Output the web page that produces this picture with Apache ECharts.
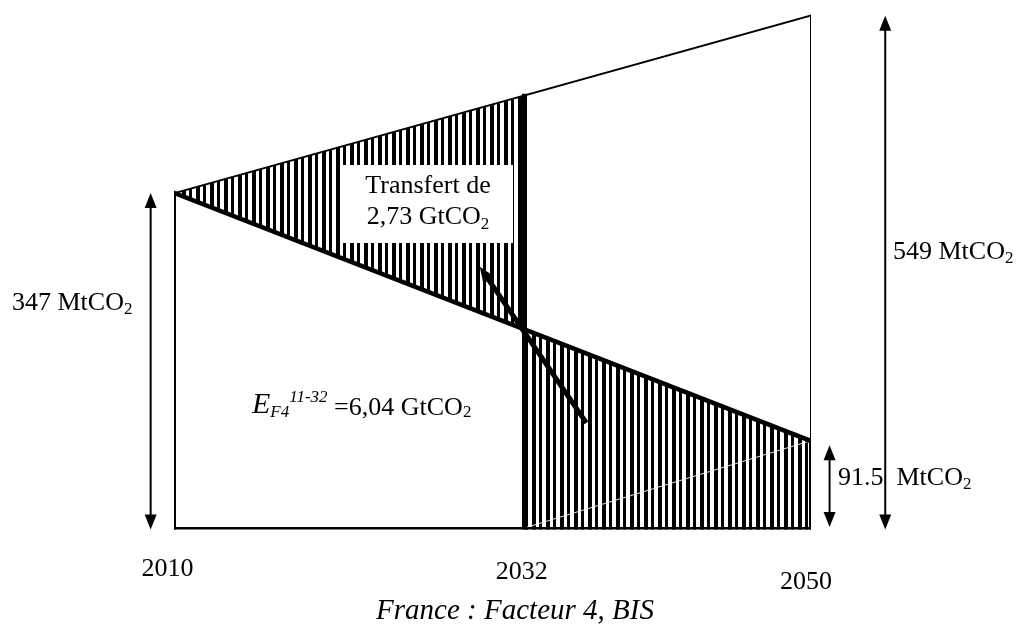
<!DOCTYPE html>
<html>
<head>
<meta charset="utf-8">
<script src="https://cdn.jsdelivr.net/npm/echarts@6/dist/echarts.min.js"></script>
<style>
  html, body { margin: 0; padding: 0; background: #fff; }
  #chart { width: 1028px; height: 628px; }
</style>
</head>
<body>
<div id="chart"></div>
<script>
// years on the baseline
const years = [2010, 2032, 2050]
const yearLabels = ['2010', '2032', '2050']
// MtCO2 (the sketch is not to scale)
const upperPath = [347, 447, 530]   // tendanciel
const lowerPath = [347, 206, 91.5]  // facteur 4
// transfer arrow, tail then head (year, MtCO2)
const transferArrow = [[2035.9, 110], [2029.2, 271]]

const serif = "'Liberation Serif', 'Times New Roman', serif"

// vertical hatching pattern
const hatchCanvas = document.createElement('canvas')
hatchCanvas.width = 14
hatchCanvas.height = 14
const hctx = hatchCanvas.getContext('2d')
hctx.fillStyle = '#fff'
hctx.fillRect(0, 0, 14, 14)
hctx.fillStyle = '#000'
hctx.fillRect(0, 0, 4, 14)
hctx.fillRect(7, 0, 3, 14)
const hatchFill = { image: hatchCanvas, repeat: 'repeat' }

const hatchShapes = [
  [[years[0], upperPath[0]], [years[1], upperPath[1]], [years[1], lowerPath[1]]],
  [[years[1], lowerPath[1]], [years[2], lowerPath[2]], [years[2], 0], [years[1], 0]]
]

const frame = [
  { coords: [[years[0], 0], [years[2], 0]], lineStyle: { width: 5 } },
  { coords: [[years[0], 0], [years[0], upperPath[0]]], lineStyle: { width: 2 } },
  { coords: [[years[1], 0], [years[1], upperPath[1]]], lineStyle: { width: 5 } },
  { coords: [[years[2], lowerPath[2]], [years[2], upperPath[2]]], lineStyle: { width: 2 } },
  { coords: [[years[2], 0], [years[2], lowerPath[2]]], lineStyle: { width: 4 } },
  { coords: [[years[0], upperPath[0]], [years[2], upperPath[2]]], lineStyle: { width: 2 } },
  { coords: [[years[0], lowerPath[0]], [years[2], lowerPath[2]]], lineStyle: { width: 4.5 } }
]

const arrows = [
  { from: [2008.5, 0], to: [2008.5, upperPath[0]], both: true, width: 2, head: [12, 15] },
  { from: [2054.7, 0], to: [2054.7, upperPath[2]], both: true, width: 2, head: [12, 15] },
  { from: [2051.2, 2.5], to: [2051.2, 87], both: true, width: 2, head: [12, 15] },
  { from: transferArrow[0], to: transferArrow[1], both: false, width: 5, head: [13, 16] }
]

function headPoints(tip, u, size) {
  const bx = tip[0] - u[0] * size[1]
  const by = tip[1] - u[1] * size[1]
  const nx = -u[1] * size[0] / 2
  const ny = u[0] * size[0] / 2
  return [tip, [bx + nx, by + ny], [bx - nx, by - ny]]
}

function renderArrow(params, api) {
  const a = arrows[params.dataIndex]
  const p0 = api.coord(a.from)
  const p1 = api.coord(a.to)
  const len = Math.hypot(p1[0] - p0[0], p1[1] - p0[1])
  const u = [(p1[0] - p0[0]) / len, (p1[1] - p0[1]) / len]
  const back = [-u[0], -u[1]]
  const s0 = a.both ? [p0[0] + u[0] * a.head[1] * 0.8, p0[1] + u[1] * a.head[1] * 0.8] : p0
  const s1 = [p1[0] - u[0] * a.head[1] * 0.8, p1[1] - u[1] * a.head[1] * 0.8]
  const children = [
    { type: 'line', shape: { x1: s0[0], y1: s0[1], x2: s1[0], y2: s1[1] }, style: { stroke: '#000', lineWidth: a.width } },
    { type: 'polygon', shape: { points: headPoints(p1, u, a.head) }, style: { fill: '#000' } }
  ]
  if (a.both) {
    children.push({ type: 'polygon', shape: { points: headPoints(p0, back, a.head) }, style: { fill: '#000' } })
  }
  return { type: 'group', children }
}

function subLabel(x, y, text) {
  return {
    type: 'text', z: 101, x, y,
    style: {
      text,
      align: 'left', verticalAlign: 'middle',
      rich: {
        a: { fontFamily: serif, fontSize: 26, lineHeight: 30, verticalAlign: 'middle', fill: '#000' },
        s: { fontFamily: serif, fontSize: 17, lineHeight: 18, verticalAlign: 'bottom', fill: '#000' }
      }
    }
  }
}

const chart = echarts.init(document.getElementById('chart'), null, { renderer: 'canvas' })

chart.setOption({
  backgroundColor: '#fff',
  animation: false,
  grid: { left: 174.5, right: 217.5, top: 6, bottom: 98.5 },
  xAxis: { type: 'value', min: 2010, max: 2050, show: false },
  yAxis: { type: 'value', min: 0, max: 540, show: false },
  series: [
    {
      type: 'custom',
      coordinateSystem: 'cartesian2d',
      z: 1,
      data: hatchShapes.map(s => s[0]),
      renderItem(params, api) {
        const pts = hatchShapes[params.dataIndex].map(p => api.coord(p))
        return { type: 'polygon', shape: { points: pts }, style: { fill: hatchFill, stroke: null } }
      }
    },
    {
      // thin white seam across the lower hatch, as in the scan
      type: 'lines',
      coordinateSystem: 'cartesian2d',
      z: 2,
      silent: true,
      lineStyle: { color: '#fff', width: 1, opacity: 0.9 },
      data: [{ coords: [[years[1], 1.5], [years[2], lowerPath[2]]] }]
    },
    {
      type: 'lines',
      coordinateSystem: 'cartesian2d',
      z: 3,
      silent: true,
      lineStyle: { color: '#000', opacity: 1, cap: 'square' },
      data: frame
    },
    {
      type: 'custom',
      coordinateSystem: 'cartesian2d',
      z: 4,
      data: arrows.map(a => a.to),
      renderItem: renderArrow
    },
    {
      type: 'scatter',
      symbolSize: 0,
      z: 5,
      silent: true,
      itemStyle: { opacity: 1, color: '#000' },
      label: {
        show: true,
        position: 'inside',
        formatter: p => yearLabels[p.dataIndex],
        fontFamily: serif,
        fontSize: 26,
        color: '#000',
        opacity: 1
      },
      data: [
        { value: [years[0], 0], label: { offset: [-7, 39.5] } },
        { value: [years[1], 0], label: { offset: [-2.5, 42.5] } },
        { value: [years[2], 0], label: { offset: [-4.5, 52.5] } }
      ]
    }
  ],
  graphic: [
    { type: 'rect', z: 100, shape: { x: 343, y: 165, width: 170, height: 78 }, style: { fill: '#fff' } },
    {
      type: 'text', z: 101, x: 428, y: 202,
      style: {
        text: '{a|Transfert de}\n{a|2,73 GtCO}{s|2}',
        align: 'center', verticalAlign: 'middle',
        rich: {
          a: { fontFamily: serif, fontSize: 26, lineHeight: 31, verticalAlign: 'middle', fill: '#000' },
          s: { fontFamily: serif, fontSize: 17, lineHeight: 18, verticalAlign: 'bottom', fill: '#000' }
        }
      }
    },
    subLabel(12, 303, '{a|347 MtCO}{s|2}'),
    subLabel(893, 252, '{a|549 MtCO}{s|2}'),
    subLabel(838, 478, '{a|91.5  MtCO}{s|2}'),
    {
      type: 'text', z: 101, x: 252, y: 405,
      style: {
        text: '{e|E}{f|F4}{p|11-32}{b| =6,04 GtCO}{s|2}',
        align: 'left', verticalAlign: 'middle',
        rich: {
          e: { fontFamily: serif, fontStyle: 'italic', fontSize: 30, lineHeight: 32, verticalAlign: 'middle', fill: '#000' },
          f: { fontFamily: serif, fontStyle: 'italic', fontSize: 17, lineHeight: 23, verticalAlign: 'bottom', fill: '#000' },
          p: { fontFamily: serif, fontStyle: 'italic', fontSize: 17, lineHeight: 24, verticalAlign: 'top', fill: '#000' },
          b: { fontFamily: serif, fontSize: 26, lineHeight: 29, verticalAlign: 'bottom', fill: '#000' },
          s: { fontFamily: serif, fontSize: 17, lineHeight: 15, verticalAlign: 'bottom', fill: '#000' }
        }
      }
    },
    {
      type: 'text', z: 101, x: 515, y: 611,
      style: {
        text: 'France : Facteur 4, BIS',
        align: 'center', verticalAlign: 'middle',
        fontFamily: serif, fontStyle: 'italic', fontSize: 29, fill: '#000'
      }
    }
  ]
})
</script>
</body>
</html>
